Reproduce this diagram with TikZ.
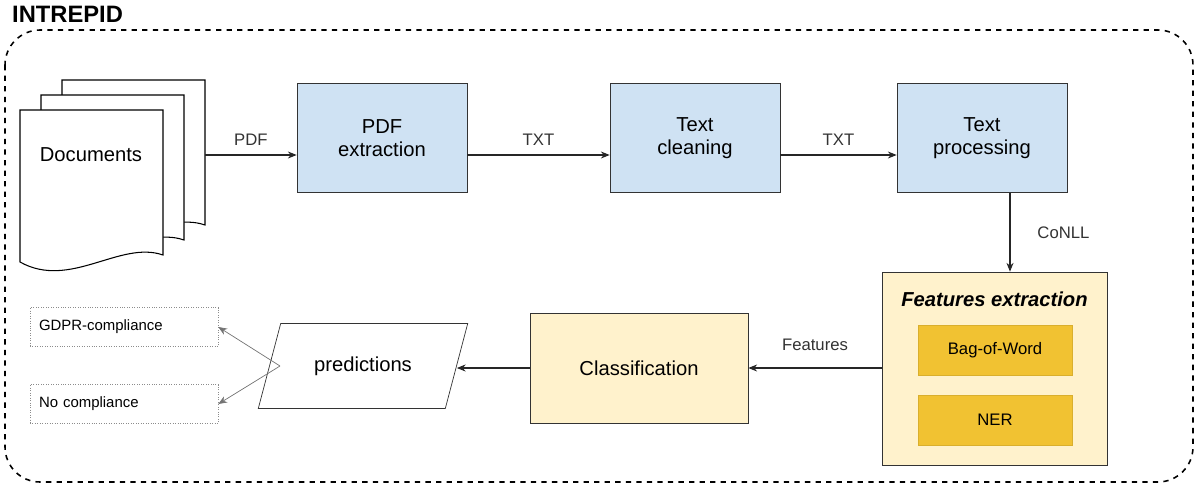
\documentclass[tikz,border=0pt]{standalone}
\usepackage{fontspec}
\setmainfont{Liberation Sans}
\usetikzlibrary{shapes.geometric,arrows.meta}
\definecolor{lblue}{HTML}{CFE2F3}
\definecolor{lyel}{HTML}{FFF2CC}
\definecolor{gold}{HTML}{F1C232}
\begin{document}
\begin{tikzpicture}[x=0.02cm,y=-0.02cm,
  blue/.style={draw=black!80,fill=lblue,minimum width=3.4cm,minimum height=2.18cm,font=\fontsize{11.5}{13}\selectfont,align=center},
  yel/.style={draw=black!80,fill=lyel,font=\fontsize{11.5}{13}\selectfont},
  goldbox/.style={draw=gold!90!black,fill=gold,minimum width=3.08cm,minimum height=1cm,font=\fontsize{9.5}{11}\selectfont},
  arr/.style={-{Stealth[length=5pt,width=4pt]},black!85,line width=0.6pt},
  lbl/.style={font=\fontsize{9.5}{11}\selectfont,text=black!80},
  outbox/.style={draw=black!45,densely dotted,minimum width=3.76cm,minimum height=0.78cm,font=\fontsize{8.5}{10}\selectfont,text width=3.4cm,align=left}]
\useasboundingbox (0,0) rectangle (1200,487);
\node[anchor=west,font=\bfseries\fontsize{13.5}{15}\selectfont] (title) at (6,14) {INTREPID};
\draw[dashed,line width=0.9pt,rounded corners=20pt] (5,30) rectangle (1193,482);
% documents
\foreach \o/\p in {42/30,21/15}{
 \draw[fill=white,line width=0.6pt] (20+\o,110-\p) -- (163+\o,110-\p) -- (163+\o,255-\p) .. controls (120+\o,240-\p) and (70+\o,290-\p) .. (20+\o,262-\p) -- cycle;}
\draw[fill=white,line width=0.6pt] (20,110) -- (163,110) -- (163,255) .. controls (120,240) and (70,290) .. (20,262) -- cycle;
\node[font=\fontsize{11.5}{13}\selectfont] (docs) at (91,155) {Documents};
\coordinate (docr) at (205,155);
\node[blue] (pdf) at (382,138) {PDF\\extraction};
\node[blue] (clean) at (695,138) {Text\\cleaning};
\node[blue] (proc) at (982,138) {Text\\processing};
\draw[arr] (docr) -- node[lbl,above=2pt]{PDF} (pdf.west|-docr);
\draw[arr] (pdf.east|-docr) -- node[lbl,above=2pt]{TXT} (clean.west|-docr);
\draw[arr] (clean.east|-docr) -- node[lbl,above=2pt]{TXT} (proc.west|-docr);
\node[yel,minimum width=4.5cm,minimum height=3.86cm] (feat) at (994.5,368.5) {};
\node[font=\bfseries\itshape\fontsize{11.5}{13}\selectfont] (ft) at (994.5,299) {Features extraction};
\node[goldbox] (bow) at (995,350) {Bag-of-Word};
\node[goldbox] (ner) at (995,420) {NER};
\coordinate (c1) at (1010,193);
\draw[arr] (c1) -- node[lbl,right=12pt]{CoNLL} (c1|-feat.north);
\node[yel,minimum width=4.36cm,minimum height=2.2cm] (cls) at (639,368) {Classification};
\draw[arr] (feat.west|-cls) -- node[lbl,above=6pt]{Features} (cls.east);
\node[draw=black!80,fill=white,trapezium,trapezium left angle=64,trapezium right angle=116,minimum width=4.2cm,minimum height=1.7cm,trapezium stretches=true,font=\fontsize{11.5}{13}\selectfont] (pred) at (363,366) {predictions};
\draw[arr] (cls.west) -- (pred.east|-cls);
\node[outbox] (g) at (124,327) {GDPR-compliance};
\node[outbox] (n) at (124,404) {No compliance};
\coordinate (pl) at (280,366);
\draw[arr,black!55,line width=0.4pt] (pl) -- (g.east);
\draw[arr,black!55,line width=0.4pt] (pl) -- (n.east);
\end{tikzpicture}
\end{document}
